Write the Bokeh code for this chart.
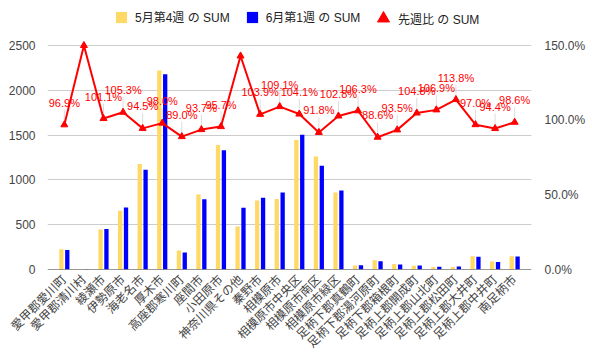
import math
from bokeh.plotting import figure
from bokeh.models import (Range1d, LinearAxis, FixedTicker, NumeralTickFormatter,
                          Legend, LegendItem, ColumnDataSource, FactorRange, Span)
from bokeh.transform import dodge
from bokeh.embed import file_html
from bokeh.resources import INLINE
from bokeh.core.properties import value

cities = ["愛甲郡愛川町", "愛甲郡清川村", "綾瀬市", "伊勢原市", "海老名市", "厚木市",
          "高座郡寒川町", "座間市", "小田原市", "神奈川県その他", "秦野市", "相模原市",
          "相模原市中央区", "相模原市南区", "相模原市緑区", "足柄下郡真鶴町", "足柄下郡湯河原町",
          "足柄下郡箱根町", "足柄上郡開成町", "足柄上郡山北町", "足柄上郡松田町",
          "足柄上郡大井町", "足柄上郡中井町", "南足柄市"]
may_w4 = [225, 2, 447, 656, 1178, 2222, 212, 837, 1390, 481, 770, 788,
          1446, 1262, 858, 45, 103, 60, 42, 29, 29, 147, 89, 147]
jun_w1 = [218, 3, 452, 691, 1113, 2178, 189, 784, 1330, 688, 800, 860,
          1505, 1159, 882, 48, 91, 56, 44, 31, 33, 143, 84, 145]
ratio = [0.969, 1.500, 1.011, 1.053, 0.945, 0.980, 0.890, 0.937, 0.957, 1.430, 1.039, 1.091,
         1.041, 0.918, 1.028, 1.063, 0.886, 0.935, 1.048, 1.069, 1.138, 0.970, 0.944, 0.986]
ratio_labels = ["96.9%", "", "101.1%", "105.3%", "94.5%", "98.0%", "89.0%", "93.7%", "95.7%", "",
                "103.9%", "109.1%", "104.1%", "91.8%", "102.8%", "106.3%", "88.6%", "93.5%",
                "104.8%", "106.9%", "113.8%", "97.0%", "94.4%", "98.6%"]
left_ticks = [0, 500, 1000, 1500, 2000, 2500]
right_ticks = [0, 0.5, 1.0, 1.5]

LEFT_MAX = 2500
PCT_MAX = 1.5
DATA_H = 224          # pixel height of the 0..max plotting area
TOP_PAD = 45          # legend strip above it, kept inside the frame
scale = (DATA_H + TOP_PAD) / DATA_H
stem_len = 15 * PCT_MAX / DATA_H

src = ColumnDataSource(dict(city=cities, may=may_w4, jun=jun_w1, ratio=ratio, lbl=ratio_labels,
                            stem_top=[r + stem_len if l else r for r, l in zip(ratio, ratio_labels)]))

LATIN = "'Liberation Sans', 'Noto Sans CJK JP'"

p = figure(width=592, height=360,
           x_range=FactorRange(factors=cities, range_padding=0.36, range_padding_units="absolute"),
           y_range=Range1d(0, LEFT_MAX * scale),
           output_backend="svg", toolbar_location=None,
           min_border_left=47, min_border_right=61, min_border_top=0, min_border_bottom=91)
p.outline_line_color = None
p.background_fill_color = "white"
p.border_fill_color = "white"
p.extra_y_ranges = {"pct": Range1d(0, PCT_MAX * scale)}

# axes
p.yaxis.ticker = FixedTicker(ticks=left_ticks)
p.yaxis.axis_line_color = None
p.yaxis.major_tick_line_color = None
p.yaxis.minor_tick_line_color = None
p.yaxis.major_label_standoff = 6
p.yaxis.major_label_text_font_size = "12px"
p.yaxis.major_label_text_color = "#444444"
p.yaxis.major_label_text_font = LATIN

p.xaxis.axis_line_color = None
p.xaxis.major_tick_line_color = None
p.xaxis.minor_tick_line_color = None
p.xaxis.major_label_orientation = math.pi / 4
p.xaxis.major_label_standoff = 2
p.xaxis.major_label_text_font_size = "12px"
p.xaxis.major_label_text_color = "#444444"
p.xaxis.major_label_text_font = LATIN

ra = LinearAxis(y_range_name="pct", ticker=FixedTicker(ticks=right_ticks),
                formatter=NumeralTickFormatter(format="0.0%"))
ra.axis_line_color = None
ra.major_tick_line_color = None
ra.minor_tick_line_color = None
ra.major_label_standoff = 7
ra.major_label_text_font_size = "12px"
ra.major_label_text_color = "#444444"
ra.major_label_text_font = LATIN
p.add_layout(ra, "right")

p.xgrid.grid_line_color = None
p.ygrid.grid_line_color = "#cccccc"
p.ygrid.ticker = FixedTicker(ticks=left_ticks)

r_may = p.vbar(x=dodge("city", -0.15, range=p.x_range), top="may", width=0.22, source=src,
               fill_color="#ffd966", line_color=None)
r_jun = p.vbar(x=dodge("city", 0.15, range=p.x_range), top="jun", width=0.22, source=src,
               fill_color="#0000ff", line_color=None)

p.add_layout(Span(location=0, dimension="width", line_color="#333333", line_width=1))

p.segment(x0="city", y0="ratio", x1="city", y1="stem_top", source=src, y_range_name="pct",
          line_color="#dddddd", line_width=1)
p.line(x="city", y="ratio", source=src, y_range_name="pct", line_color="#ff0000", line_width=2)
r_tri = p.scatter(x="city", y="ratio", source=src, y_range_name="pct", marker="triangle",
                  size=7, fill_color="#ff0000", line_color="#ff0000")
p.text(x="city", y="ratio", text="lbl", source=src, y_range_name="pct", y_offset=-22,
       text_align="center", text_baseline="middle", text_font_size="11px",
       text_color="#ff0000", text_font=value("Liberation Sans"))

# legends
leg1 = Legend(items=[LegendItem(label="5月第4週 の SUM", renderers=[r_may]),
                     LegendItem(label="6月第1週 の SUM", renderers=[r_jun])],
              orientation="horizontal", location=(67, 244), padding=0, margin=0,
              glyph_width=14, glyph_height=14, label_height=14, label_standoff=7, spacing=15,
              label_text_font_size="12px", label_text_font=LATIN, label_text_color="#222222",
              border_line_color=None, background_fill_alpha=0)
leg2 = Legend(items=[LegendItem(label="先週比 の SUM", renderers=[r_tri])],
              orientation="horizontal", location=(321, 236), padding=0, margin=0,
              glyph_width=30, glyph_height=30, label_height=14, label_standoff=0, spacing=0,
              label_text_font_size="12px", label_text_font=LATIN, label_text_color="#222222",
              border_line_color=None, background_fill_alpha=0)
p.add_layout(leg1)
p.add_layout(leg2)

open("out.html", "w").write(file_html(p, INLINE))
